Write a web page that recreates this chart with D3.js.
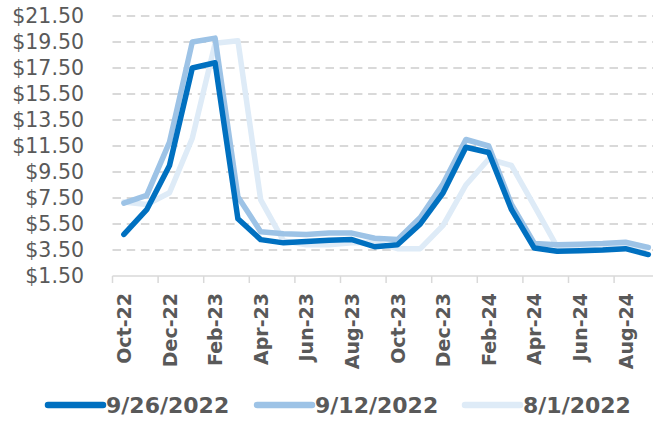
<!DOCTYPE html>
<html lang="en">
<head>
  <meta charset="UTF-8">
  <title>Price forecasts</title>
  <script src="https://d3js.org/d3.v7.min.js"></script>
  <style>
    body {
      margin: 0;
      background-color: white;
    }
    svg {
      display: block;
      font-family: "DejaVu Sans", sans-serif;
    }
  </style>
</head>
<body>
  <div id="viz"></div>

  <script>
    const months = [
      "Oct-22", "Nov-22", "Dec-22", "Jan-23", "Feb-23", "Mar-23", "Apr-23", "May-23",
      "Jun-23", "Jul-23", "Aug-23", "Sep-23", "Oct-23", "Nov-23", "Dec-23", "Jan-24",
      "Feb-24", "Mar-24", "Apr-24", "May-24", "Jun-24", "Jul-24", "Aug-24", "Sep-24"
    ];
    const seriesNames = ["9/26/2022", "9/12/2022", "8/1/2022"];
    const sep26 = [4.7, 6.6, 10.0, 17.5, 17.9, 5.9, 4.3, 4.05, 4.15, 4.25, 4.3, 3.75,
                   3.9, 5.5, 7.9, 11.4, 11.0, 6.6, 3.65, 3.4, 3.45, 3.5, 3.6, 3.15];
    const sep12 = [7.1, 7.7, 11.8, 19.5, 19.8, 7.6, 4.9, 4.75, 4.7, 4.8, 4.8, 4.4,
                   4.3, 6.0, 8.6, 12.0, 11.5, 7.0, 4.0, 3.9, 3.95, 4.0, 4.1, 3.7];
    const aug01 = [7.2, 7.0, 7.9, 12.1, 19.4, 19.6, 7.35, 4.2, 3.9, 3.9, 4.05, 4.1,
                   3.6, 3.6, 5.4, 8.5, 10.5, 10.0, 6.9, 3.75, 3.5, 3.55, 3.75, 3.7];
    const yTicks = [1.5, 3.5, 5.5, 7.5, 9.5, 11.5, 13.5, 15.5, 17.5, 19.5, 21.5];
    const colors = ["#0070C0", "#9DC3E6", "#DEEBF7"];

    const svgWidth = 653, svgHeight = 421;
    const plotLeft = 112.5, bandW = 22.8;
    const plotTop = 16, plotBottom = 276;

    const svg = d3.select("#viz").append("svg")
      .attr("width", svgWidth)
      .attr("height", svgHeight);

    const x = d3.scaleBand()
      .domain(months)
      .range([plotLeft, plotLeft + months.length * bandW]);

    const y = d3.scaleLinear()
      .domain([1.5, 21.5])
      .range([plotBottom, plotTop]);

    // Gridlines
    svg.append("g")
      .selectAll("line")
      .data(yTicks.slice(1))
      .enter()
      .append("line")
      .attr("x1", plotLeft)
      .attr("x2", svgWidth)
      .attr("y1", d => y(d))
      .attr("y2", d => y(d))
      .attr("stroke", "#D9D9D9")
      .attr("stroke-width", 2)
      .attr("stroke-dasharray", "8.5,5.7");

    // Y labels
    svg.append("g")
      .selectAll("text")
      .data(yTicks)
      .enter()
      .append("text")
      .attr("x", 84)
      .attr("y", d => y(d))
      .attr("dy", "0.36em")
      .attr("text-anchor", "end")
      .attr("font-size", "20.5px")
      .attr("fill", "#595959")
      .text(d => "$" + d.toFixed(2));

    // X axis line and ticks
    svg.append("line")
      .attr("x1", plotLeft)
      .attr("x2", svgWidth)
      .attr("y1", y(1.5))
      .attr("y2", y(1.5))
      .attr("stroke", "#D9D9D9")
      .attr("stroke-width", 1.5);

    const tickMonths = months.filter((d, i) => i % 2 === 0);

    svg.append("g")
      .selectAll("line")
      .data(tickMonths)
      .enter()
      .append("line")
      .attr("x1", d => x(d))
      .attr("x2", d => x(d))
      .attr("y1", y(1.5))
      .attr("y2", y(1.5) + 7)
      .attr("stroke", "#D9D9D9")
      .attr("stroke-width", 1.5);

    svg.append("g")
      .selectAll("text")
      .data(tickMonths)
      .enter()
      .append("text")
      .attr("transform", d => `translate(${x(d) + x.bandwidth() / 2 + 7},293) rotate(-90)`)
      .attr("text-anchor", "end")
      .attr("font-size", "19px")
      .attr("font-weight", "bold")
      .attr("fill", "#595959")
      .text(d => d);

    // Lines (lightest drawn first)
    const line = d3.line()
      .x((d, i) => x(months[i]) + x.bandwidth() / 2)
      .y(d => y(d));

    const allSeries = [sep26, sep12, aug01];
    [2, 1, 0].forEach(k => {
      svg.append("path")
        .datum(allSeries[k])
        .attr("fill", "none")
        .attr("stroke", colors[k])
        .attr("stroke-width", 5.5)
        .attr("stroke-linejoin", "round")
        .attr("stroke-linecap", "round")
        .attr("d", line);
    });

    // Legend
    const legendX = [48, 257, 465];
    const legend = svg.append("g")
      .selectAll("g")
      .data(seriesNames)
      .enter()
      .append("g")
      .attr("transform", (d, i) => `translate(${legendX[i]},405)`);

    legend.append("line")
      .attr("x1", 0)
      .attr("x2", 55)
      .attr("stroke", (d, i) => colors[i])
      .attr("stroke-width", 6.5)
      .attr("stroke-linecap", "round");

    legend.append("text")
      .attr("x", 58)
      .attr("dy", "0.36em")
      .attr("font-size", "22px")
      .attr("font-weight", "bold")
      .attr("fill", "#595959")
      .text(d => d);
  </script>
</body>
</html>
